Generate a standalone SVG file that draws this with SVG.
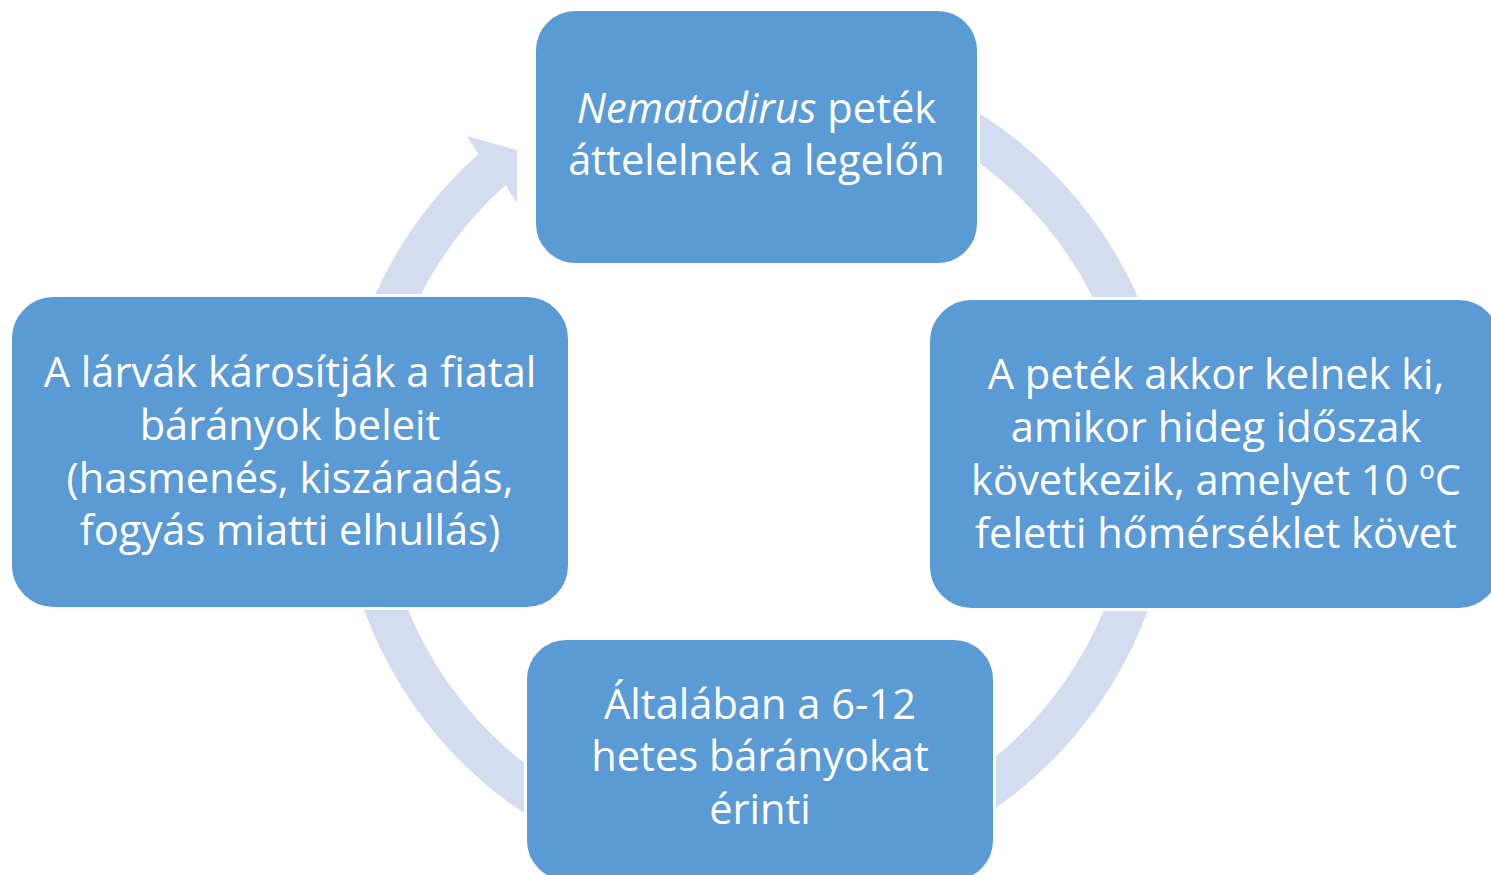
<svg xmlns="http://www.w3.org/2000/svg" width="1491" height="875" viewBox="0 0 1491 875">
<style>
.arc{fill:none;stroke:#D3DDEF;stroke-width:41;stroke-linecap:butt}
.head{fill:#D3DDEF;stroke:none}
.box{fill:#5B9BD5;stroke:#FFFFFF;stroke-width:3}
.t{font-family:"Open Sans","Noto Sans",sans-serif;font-size:41.6px;fill:#FFFFFF;text-anchor:middle}
.i{font-style:italic}
</style>
<rect width="1491" height="875" fill="#FFFFFF"/>
<g id="connectors">
<path class="arc" d="M 954.5 122.2 A 397 397 0 0 1 1129.1 330.2"/>
<path class="arc" d="M 1147.0 534.9 A 397 397 0 0 1 954.5 809.8"/>
<path class="arc" d="M 557.5 809.8 A 397 397 0 0 1 365.0 534.9"/>
<path class="arc" d="M 365.0 397.1 A 397 397 0 0 1 491.9 169.6"/>
<polygon class="head" points="466.3,166 478.6,154.7 467,136 517,150 517,203 505.2,184.5 494.1,194.8"/>
</g>
<g id="node-top">
<rect class="box" x="534.5" y="9.5" width="444" height="255" rx="41" ry="41"/>
<text class="t" x="756.5" y="123"><tspan class="i">Nematodirus</tspan> peték</text>
<text class="t" x="756.5" y="175">áttelelnek a legelőn</text>
</g>
<g id="node-right">
<rect class="box" x="928.5" y="298.5" width="573" height="311" rx="43" ry="43"/>
<text class="t" x="1216" y="389">A peték akkor kelnek ki,</text>
<text class="t" x="1216" y="442">amikor hideg időszak</text>
<text class="t" x="1216" y="495">következik, amelyet 10 ºC</text>
<text class="t" x="1216" y="548">feletti hőmérséklet követ</text>
</g>
<g id="node-bottom">
<rect class="box" x="525.5" y="638.5" width="469" height="243" rx="41" ry="41"/>
<text class="t" x="760" y="719">Általában a 6-12</text>
<text class="t" x="760" y="771">hetes bárányokat</text>
<text class="t" x="760" y="824">érinti</text>
</g>
<g id="node-left">
<rect class="box" x="10.5" y="295.5" width="559" height="313" rx="43" ry="43"/>
<text class="t" x="290" y="387">A lárvák károsítják a fiatal</text>
<text class="t" x="290" y="440">bárányok beleit</text>
<text class="t" x="290" y="493">(hasmenés, kiszáradás,</text>
<text class="t" x="290" y="545">fogyás miatti elhullás)</text>
</g>
</svg>
